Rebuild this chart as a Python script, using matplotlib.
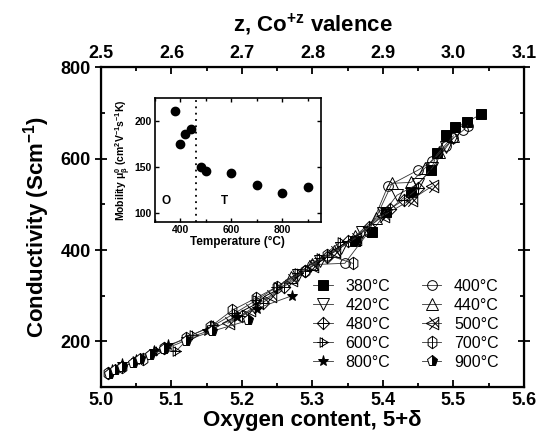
import numpy as np
import matplotlib
matplotlib.use("Agg")
import matplotlib.pyplot as plt
from matplotlib.path import Path
from matplotlib.ticker import MultipleLocator

plt.rcParams['font.family'] = ['Liberation Sans', 'DejaVu Sans']
plt.rcParams['mathtext.fontset'] = 'custom'
plt.rcParams['mathtext.rm'] = 'Liberation Sans:bold'
plt.rcParams['mathtext.it'] = 'Liberation Sans:bold'
plt.rcParams['mathtext.bf'] = 'Liberation Sans:bold'

# DATA: conductivity vs oxygen content, one series per temperature
temps = ['380°C', '400°C', '420°C', '440°C', '480°C', '500°C', '600°C', '700°C', '800°C', '900°C']

d380 = [5.36, 5.384, 5.405, 5.44, 5.468, 5.477, 5.49, 5.502, 5.519, 5.539]
s380 = [420, 440, 483, 528, 575, 612, 651, 669, 680, 697]
d400 = [5.30, 5.346, 5.38, 5.407, 5.45, 5.47, 5.49, 5.50, 5.514, 5.52]
s400 = [368, 371, 440, 540, 575, 595, 628, 645, 662, 672]
d420 = [5.28, 5.31, 5.34, 5.37, 5.40, 5.42, 5.45, 5.47, 5.49, 5.50]
s420 = [345, 375, 405, 440, 480, 520, 545, 580, 625, 645]
d440 = [5.27, 5.30, 5.33, 5.36, 5.39, 5.413, 5.44, 5.46, 5.48, 5.50]
s440 = [340, 370, 398, 430, 470, 546, 548, 580, 615, 650]
d480 = [5.20, 5.23, 5.26, 5.29, 5.32, 5.35, 5.38, 5.41, 5.43, 5.45]
s480 = [255, 285, 320, 355, 385, 420, 450, 490, 510, 535]
d500 = [5.18, 5.21, 5.24, 5.27, 5.30, 5.33, 5.36, 5.40, 5.44, 5.47]
s500 = [240, 268, 300, 335, 365, 395, 425, 475, 510, 540]
d600 = [5.05, 5.08, 5.107, 5.13, 5.16, 5.19, 5.22, 5.25, 5.28, 5.31, 5.34]
s600 = [158, 178, 180, 215, 235, 262, 290, 320, 350, 382, 418]
d700 = [5.01, 5.03, 5.06, 5.09, 5.12, 5.155, 5.186, 5.22, 5.25, 5.29, 5.32, 5.357]
s700 = [132, 145, 162, 185, 208, 232, 268, 295, 320, 355, 390, 371]
d800 = [5.015, 5.03, 5.05, 5.075, 5.095, 5.12, 5.15, 5.193, 5.221, 5.271]
s800 = [137, 150, 160, 178, 192, 205, 222, 253, 272, 300]
d900 = [5.012, 5.02, 5.03, 5.045, 5.055, 5.07, 5.09, 5.12, 5.157, 5.209]
s900 = [128, 138, 145, 153, 162, 170, 183, 202, 222, 246]

# inset: mobility vs temperature
T_mob = [380, 400, 420, 440, 480, 500, 600, 700, 800, 900]
mob = [211, 175, 186, 191, 150, 145, 143, 130, 122, 128]

# custom markers
M, L = Path.MOVETO, Path.LINETO
diam_plus = Path([(0, 1), (1, 0), (0, -1), (-1, 0), (0, 1), (0, -1), (-1, 0), (1, 0)],
                 [M, L, L, L, L, L, M, L])
bowtie = Path([(-1, 0), (1, 1), (1, -1), (-1, 0), (-0.5, 1), (1, -0.6), (-0.5, -1), (1, 0.6)],
              [M, L, L, L, M, L, M, L])
tri_plus = Path([(1, 0), (-0.7, 1), (-0.7, -1), (1, 0), (-1.3, 0), (1, 0), (-0.2, 1.0), (-0.2, -1.0)],
                [M, L, L, L, M, L, M, L])
hex_line = Path([(0, 1), (0.7, 0.5), (0.7, -0.5), (0, -1), (-0.7, -0.5), (-0.7, 0.5), (0, 1), (0, -1)],
                [M, L, L, L, L, L, L, L])

series = [
    (d380, s380, dict(marker='s', mfc='k', ms=6.5)),
    (d400, s400, dict(marker='o', mfc='none', ms=7)),
    (d420, s420, dict(marker='v', mfc='none', ms=8)),
    (d440, s440, dict(marker='^', mfc='none', ms=8)),
    (d480, s480, dict(marker=diam_plus, mfc='none', ms=9)),
    (d500, s500, dict(marker=bowtie, mfc='none', ms=9)),
    (d600, s600, dict(marker=tri_plus, mfc='none', ms=9)),
    (d700, s700, dict(marker=hex_line, mfc='none', ms=9)),
    (d800, s800, dict(marker='*', mfc='k', ms=8)),
    (d900, s900, dict(marker='p', fillstyle='right', mfc='k', mfcalt='white', ms=8)),
]

fig = plt.figure(figsize=(5.55, 4.45), dpi=100)
ax = fig.add_axes([0.182, 0.130, 0.762, 0.719])

handles = []
for (d, s, kw), lab in zip(series, temps):
    h, = ax.plot(d, s, color='#333333', lw=0.6, mec='k', mew=0.7, label=lab, **kw)
    handles.append(h)

ax.set_xlim(5.0, 5.6)
ax.set_ylim(100, 800)
ax.xaxis.set_major_locator(MultipleLocator(0.1))
ax.xaxis.set_minor_locator(MultipleLocator(0.05))
ax.yaxis.set_major_locator(MultipleLocator(200))
ax.yaxis.set_minor_locator(MultipleLocator(100))
ax.tick_params(which='both', direction='in', right=True, labelsize=13, width=1.3)
ax.tick_params(which='major', length=5)
ax.tick_params(which='minor', length=3)
ax.tick_params(axis='y', which='major', direction='inout', length=8)
for lbl in ax.get_xticklabels() + ax.get_yticklabels():
    lbl.set_fontweight('bold')
for sp in ax.spines.values():
    sp.set_linewidth(1.6)
ax.set_xlabel('Oxygen content, 5+δ', fontsize=16, fontweight='bold', labelpad=1)
ax.set_ylabel('Conductivity (Scm$^{-1}$)', fontsize=16, fontweight='bold', labelpad=6)

# top axis: Co valence
ax2 = ax.twiny()
ax2.set_xlim(2.5, 3.1)
ax2.xaxis.set_minor_locator(MultipleLocator(0.05))
ax2.set_xticks(np.arange(2.5, 3.11, 0.1))
ax2.set_xticklabels(['2.5', '2.6', '2.7', '2.8', '2.9', '3.0', '3.1'], fontweight='bold')
ax2.tick_params(which='both', direction='in', labelsize=13, width=1.3)
ax2.tick_params(which='major', length=5)
ax2.tick_params(which='minor', length=3)
ax2.set_xlabel('z, Co$^{+z}$ valence', fontsize=16, fontweight='bold', labelpad=10)

# legend in two columns, filled row by row
order = [0, 2, 4, 6, 8, 1, 3, 5, 7, 9]
ax.legend([handles[i] for i in order], [temps[i] for i in order], ncol=2, frameon=False,
          loc='lower right', bbox_to_anchor=(0.975, 0.01), fontsize=11.5,
          handlelength=1.2, handletextpad=0.8, columnspacing=2.0, labelspacing=0.25)

# inset
axi = fig.add_axes([0.279, 0.501, 0.299, 0.279])
axi.plot(T_mob, mob, 'o', color='k', ms=6)
axi.axvline(460, color='k', ls=(0, (1, 2.5)), lw=1.3)
axi.set_xlim(300, 950)
axi.set_ylim(90, 225)
axi.xaxis.set_major_locator(MultipleLocator(200))
axi.xaxis.set_minor_locator(MultipleLocator(100))
axi.yaxis.set_major_locator(MultipleLocator(50))
axi.tick_params(which='both', direction='in', right=True, top=True, labelsize=7.5, width=1, pad=2)
axi.tick_params(which='major', length=3)
axi.tick_params(which='minor', length=2)
for lbl in axi.get_xticklabels() + axi.get_yticklabels():
    lbl.set_fontweight('bold')
for sp in axi.spines.values():
    sp.set_linewidth(1.2)
axi.text(325, 110, 'O', fontsize=8.5, fontweight='bold')
axi.text(560, 110, 'T', fontsize=8.5, fontweight='bold')
axi.set_xlabel('Temperature (°C)', fontsize=8.5, fontweight='bold', labelpad=1)
axi.set_ylabel('Mobility $μ_β^0$ (cm$^2$V$^{-1}$s$^{-1}$K)', fontsize=7.5, fontweight='bold', labelpad=1)

fig.savefig('out.png', dpi=100)
